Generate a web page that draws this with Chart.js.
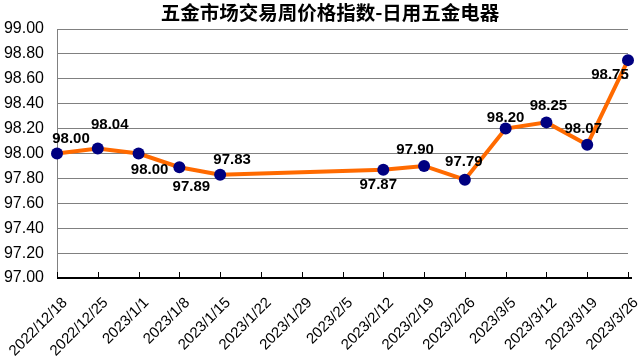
<!DOCTYPE html>
<html>
<head>
<meta charset="utf-8">
<script src="https://cdn.jsdelivr.net/npm/chart.js@4"></script>
<style>
html,body{margin:0;padding:0;background:#fff;}
#wrap{width:640px;height:364px;}
</style>
</head>
<body>
<div id="wrap"><canvas id="c" width="640" height="364"></canvas></div>
<script>
const titleText = '五金市场交易周价格指数-日用五金电器';
const categories = ['2022/12/18','2022/12/25','2023/1/1','2023/1/8','2023/1/15','2023/1/22','2023/1/29','2023/2/5','2023/2/12','2023/2/19','2023/2/26','2023/3/5','2023/3/12','2023/3/19','2023/3/26'];
const indexValues = [98.00, 98.04, 98.00, 97.89, 97.83, null, null, null, 97.87, 97.90, 97.79, 98.20, 98.25, 98.07, 98.75];
const yTickValues = [97.00, 97.20, 97.40, 97.60, 97.80, 98.00, 98.20, 98.40, 98.60, 98.80, 99.00];
const labelOffsets = [[14,-15],[12,-24],[11,16],[12,20],[12,-15],null,null,null,[-5,15],[-9,-16],[-1,-18],[0,-11],[2,-17],[-4,-16],[-18,15]];

const valueLabels = {
  id: 'valueLabels',
  afterDatasetsDraw(chart) {
    const ctx = chart.ctx;
    const meta = chart.getDatasetMeta(0);
    ctx.save();
    ctx.font = 'bold 15px "Liberation Sans", Arial, sans-serif';
    ctx.fillStyle = '#000';
    ctx.textAlign = 'center';
    ctx.textBaseline = 'middle';
    meta.data.forEach((pt, i) => {
      const v = indexValues[i];
      if (v === null) return;
      const o = labelOffsets[i];
      ctx.fillText(v.toFixed(2), pt.x + o[0], pt.y + o[1]);
    });
    ctx.restore();
  }
};

const chartTitle = {
  id: 'chartTitle',
  afterDraw(chart) {
    const ctx = chart.ctx;
    ctx.save();
    ctx.font = 'bold 19.5px "Noto Sans CJK SC", sans-serif';
    ctx.fillStyle = '#000';
    ctx.textAlign = 'center';
    ctx.textBaseline = 'middle';
    ctx.fillText(titleText, 330, 13);
    ctx.restore();
  }
};

const innerTicks = {
  id: 'innerTicks',
  afterDraw(chart) {
    const ctx = chart.ctx;
    const xs = chart.scales.x;
    const bottom = chart.chartArea.bottom;
    ctx.save();
    ctx.strokeStyle = '#000';
    ctx.lineWidth = 1;
    ctx.beginPath();
    xs.ticks.forEach((t, i) => {
      const x = Math.round(xs.getPixelForTick(i)) + 0.5;
      ctx.moveTo(x, bottom - 6);
      ctx.lineTo(x, bottom);
    });
    ctx.stroke();
    ctx.beginPath();
    ctx.lineWidth = 2;
    ctx.moveTo(chart.chartArea.left, bottom);
    ctx.lineTo(chart.chartArea.right + 4, bottom);
    ctx.stroke();
    ctx.restore();
  }
};

new Chart(document.getElementById('c'), {
  type: 'line',
  data: {
    labels: categories,
    datasets: [{
      data: indexValues,
      borderColor: '#FF6A00',
      borderWidth: 4,
      pointBackgroundColor: '#000080',
      pointBorderColor: '#000080',
      pointRadius: 6,
      pointBorderWidth: 0,
      spanGaps: true,
      tension: 0
    }]
  },
  options: {
    responsive: false,
    animation: false,
    devicePixelRatio: 1,
    layout: { padding: { left: 0, right: 12, top: 29, bottom: 0 } },
    plugins: {
      legend: { display: false },
      tooltip: { enabled: false },
      title: { display: false }
    },
    scales: {
      x: {
        offset: false,
        grid: { display: false, drawTicks: false },
        border: { display: false },
        ticks: {
          autoSkip: false,
          maxRotation: 45,
          minRotation: 45,
          color: '#000',
          font: { family: '"Liberation Sans", Arial, sans-serif', size: 15 },
          padding: 16,
          labelOffset: 8
        },
        afterFit(s) { s.height = 86; s.paddingLeft = 0; s.paddingRight = 0; }
      },
      y: {
        min: 97,
        max: 99,
        afterBuildTicks(s) { s.ticks = yTickValues.map(v => ({ value: v })); },
        grid: { color: '#808080', lineWidth: 1, drawTicks: false },
        border: { display: true, color: '#808080', width: 1 },
        ticks: {
          color: '#000',
          font: { family: '"Liberation Sans", Arial, sans-serif', size: 16 },
          padding: 13,
          callback: v => Number(v).toFixed(2)
        },
        afterFit(s) { s.width = 57; s.paddingTop = 0; s.paddingBottom = 0; }
      }
    }
  },
  plugins: [valueLabels, innerTicks, chartTitle]
});
</script>
</body>
</html>
